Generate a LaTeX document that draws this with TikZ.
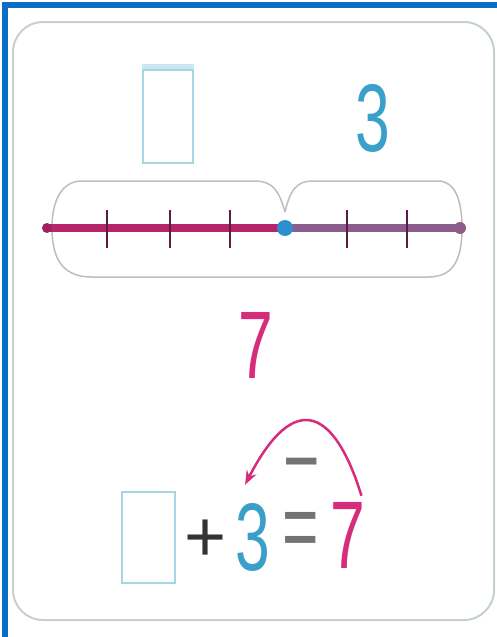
\documentclass[tikz,border=0pt]{standalone}
\usepackage{fontspec}
\setmainfont{Liberation Sans}
\definecolor{rahmenblau}{HTML}{0A6FC4}
\definecolor{kastengrau}{HTML}{C5D2CA}
\definecolor{klammergrau}{HTML}{BDBDBD}
\definecolor{zahlblau}{HTML}{3A9FC9}
\definecolor{kastenblau}{HTML}{A6D6E6}
\definecolor{magentarot}{HTML}{D62C7C}
\definecolor{strahllila}{HTML}{8C5C8C}
\definecolor{strichdunkel}{HTML}{5A1E46}
\definecolor{punktblau}{HTML}{2E8FD0}
\usetikzlibrary{arrows.meta, positioning, calc}
\tikzset{
  ziffer/.style={inner sep=0pt, xscale=0.65, font=\fontsize{96}{96}\selectfont},
  leerkasten/.style={draw=kastenblau, line width=2pt, inner sep=0pt},
  strich/.style={strichdunkel, line width=2pt},
}
\begin{document}
\begin{tikzpicture}[x=1pt, y=-1pt, >=Stealth]
      \useasboundingbox (0,0) rectangle (497,637);
      % Blue frame (top and left only)
      \draw[rahmenblau, line width=6pt] (4.5,637) -- (4.5,5) -- (497,5);
      % Rounded card
      \draw[kastengrau, line width=2pt, rounded corners=30pt] (13,22) rectangle (494,620);
      % Top labels
      \node[leerkasten, minimum width=50pt, minimum height=93pt] (kastenoben) at (168,116.5) {};
      \fill[kastenblau!60] (kastenoben.north west) rectangle ([yshift=5pt]kastenoben.north east);
      \node[ziffer, zahlblau] (dreioben) at (373,118) {3};
      % Brace around both parts
      \draw[klammergrau, line width=1.5pt]
        (285,212) .. controls (279,190) and (272,181) .. (255,181) -- (82,181)
        .. controls (62,181) and (52,200) .. (52,228)
        .. controls (52,262) and (65,277) .. (92,277) -- (428,277)
        .. controls (452,277) and (462,262) .. (462,228)
        .. controls (462,200) and (455,181) .. (438,181) -- (312,181)
        .. controls (297,181) and (290,190) .. (285,212);
      % Number line
      \coordinate (start) at (47,228);
      \coordinate (mitte) at (285,228);
      \coordinate (ende) at (460,228);
      \draw[magentarot!85!black, line width=8pt] (start) -- (mitte);
      \draw[strahllila, line width=8pt] (mitte) -- (ende);
      \fill[magentarot!75!black] (start) circle(5pt);
      \fill[strahllila] (ende) circle(6pt);
      % Ticks
      \foreach \t in {107,170,230,347,407}
        \draw[strich] (\t,210) -- (\t,248);
      \fill[punktblau] (mitte) circle(8pt);
      % Whole
      \node[ziffer, magentarot] (siebenmitte) at (256,345) {7};
      % Equation
      \node[leerkasten, minimum width=53pt, minimum height=91pt] (kastenunten) at (148.5,537.5) {};
      \node[inner sep=0pt, font=\fontsize{72}{72}\selectfont, black!80] (plus) at (206,541) {+};
      \node[ziffer, zahlblau] (dreiunten) at (253,537) {3};
      \node[ziffer, black!55] (gleich) at (301,536) {=};
      \node[ziffer, magentarot] (siebenunten) at (348,535) {7};
      % Subtraction jump
      \draw[->, magentarot, line width=2.5pt]
        ([shift={(-4,-6)}]siebenunten.north east) .. controls (335,410) and (295,388) ..
        ([shift={(-8,-18)}]dreiunten.north);
      \node[ziffer, black!55, anchor=north] (minus) at (302,458) {−};
    \end{tikzpicture}
\end{document}
